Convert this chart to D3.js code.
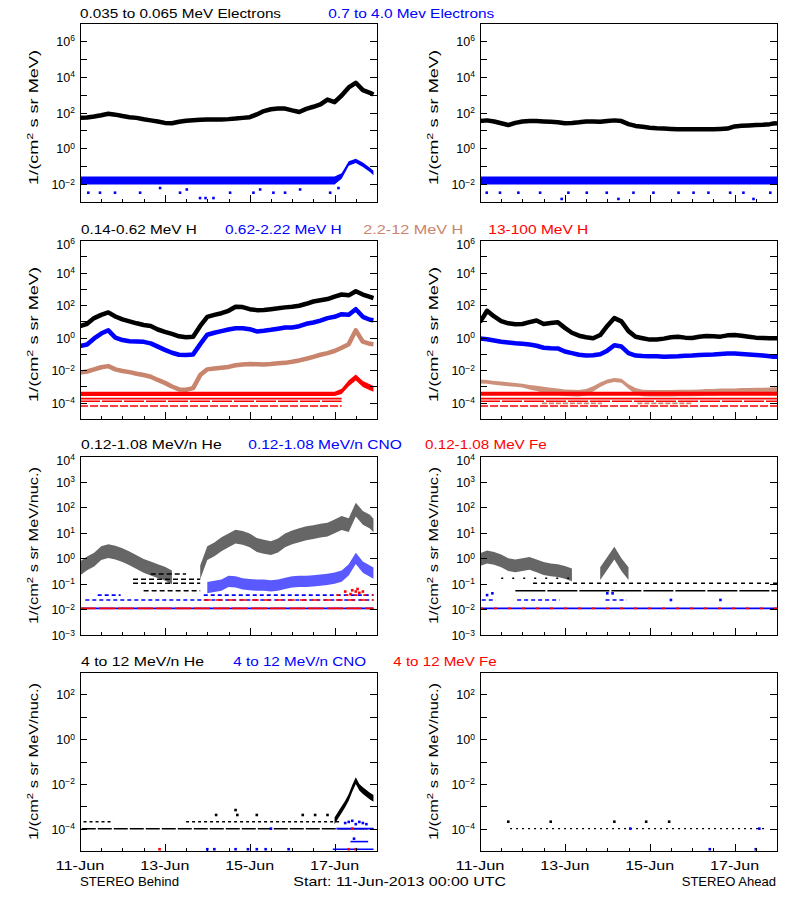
<!DOCTYPE html>
<html><head><meta charset="utf-8">
<script src="https://cdn.jsdelivr.net/npm/d3@7"></script>
<style>body{margin:0;background:#fff}svg{display:block}text{font-family:"Liberation Sans",Arial,sans-serif}</style>
</head><body><svg id="c" width="800" height="900"></svg>
<script>
// ---------- DATA (log10 of flux), sampled every 4 hours from 11-Jun-2013 00:00 UTC ----------
const hours = [0,4,8,12,16,20,24,28,32,36,40,44,48,52,56,60,64,68,72,76,80,84,88,92,96,100,104,108,112,116,120,124,128,132,136,140,144,148,152,156,160,164,166];

// Row 1: electrons
const behindElecLow = [1.70,1.72,1.78,1.85,1.93,1.88,1.80,1.74,1.70,1.62,1.56,1.50,1.42,1.40,1.48,1.54,1.57,1.60,1.61,1.61,1.61,1.63,1.66,1.70,1.74,1.89,2.08,2.18,2.22,2.22,2.12,2.03,2.20,2.32,2.45,2.72,2.58,2.95,3.40,3.66,3.25,3.10,3.00];
const behindElecHigh = [-1.80,-1.80,-1.80,-1.80,-1.80,-1.80,-1.80,-1.80,-1.80,-1.80,-1.80,-1.80,-1.80,-1.80,-1.80,-1.80,-1.80,-1.80,-1.80,-1.80,-1.80,-1.80,-1.80,-1.80,-1.80,-1.80,-1.80,-1.80,-1.80,-1.80,-1.80,-1.80,-1.80,-1.80,-1.80,-1.80,-1.80,-1.55,-0.85,-0.70,-0.92,-1.20,-1.38];
const behindElecHighSpread = [0.22,0.22,0.22,0.22,0.22,0.22,0.22,0.22,0.22,0.22,0.22,0.22,0.22,0.22,0.22,0.22,0.22,0.22,0.22,0.22,0.22,0.22,0.22,0.22,0.22,0.22,0.22,0.22,0.22,0.22,0.22,0.22,0.22,0.22,0.22,0.22,0.22,0.15,0.12,0.12,0.12,0.12,0.12];
const behindElecHighDots = [[4.7,-2.48],[11.3,-2.48],[19.8,-2.48],[34,-2.48],[45.3,-2.22],[56.6,-2.48],[60.4,-2.3],[67.9,-2.78],[71,-2.78],[75.5,-2.78],[84.9,-2.48],[98.1,-2.48],[101.9,-2.3],[109.4,-2.48],[116,-2.48],[124.5,-2.3],[141.5,-2.48],[146.2,-2.22]];
const aheadElecLow = [1.52,1.56,1.50,1.40,1.30,1.42,1.50,1.52,1.52,1.50,1.48,1.46,1.40,1.42,1.45,1.50,1.50,1.48,1.52,1.56,1.52,1.35,1.25,1.20,1.15,1.12,1.10,1.08,1.06,1.06,1.06,1.06,1.06,1.06,1.08,1.10,1.22,1.26,1.28,1.30,1.32,1.35,1.38];
const aheadElecHighLevel = -1.80;
const aheadElecHighDots = [[3.8,-2.48],[11.3,-2.48],[21.7,-2.48],[34,-2.48],[50,-2.48],[60.4,-2.48],[71.7,-2.48],[86.8,-2.48],[98.1,-2.48],[112.3,-2.48],[120.8,-2.48],[129.2,-2.48],[141.5,-2.48],[149,-2.48],[164.2,-2.48],[46.2,-2.83],[78.3,-2.83],[154.7,-2.83]];

// Row 2: protons
const behindH1 = [0.70,0.85,1.20,1.40,1.55,1.30,1.12,1.00,0.88,0.78,0.72,0.50,0.35,0.23,0.08,0.02,0.05,0.72,1.28,1.40,1.50,1.65,1.90,1.88,1.75,1.69,1.70,1.75,1.80,1.86,1.90,1.96,2.08,2.22,2.30,2.37,2.52,2.65,2.60,2.85,2.65,2.50,2.43];
const behindH2 = [-0.52,-0.42,-0.05,0.25,0.45,0.00,-0.15,-0.22,-0.24,-0.26,-0.35,-0.55,-0.75,-0.93,-1.05,-1.06,-1.03,-0.40,0.18,0.30,0.40,0.50,0.58,0.58,0.52,0.38,0.42,0.48,0.55,0.62,0.62,0.70,0.85,0.93,1.05,1.20,1.28,1.44,1.40,1.75,1.28,1.10,1.07];
const behindH3 = [-2.15,-2.08,-1.95,-1.82,-1.75,-1.95,-2.05,-2.12,-2.22,-2.30,-2.40,-2.60,-2.78,-3.00,-3.18,-3.20,-3.10,-2.30,-1.95,-1.90,-1.85,-1.80,-1.70,-1.65,-1.62,-1.63,-1.65,-1.62,-1.58,-1.55,-1.48,-1.40,-1.30,-1.18,-1.05,-0.95,-0.82,-0.62,-0.40,0.45,-0.25,-0.38,-0.40];
const behindH4 = [-3.45,-3.45,-3.45,-3.45,-3.45,-3.45,-3.45,-3.45,-3.45,-3.45,-3.45,-3.45,-3.45,-3.45,-3.45,-3.45,-3.45,-3.45,-3.45,-3.45,-3.45,-3.45,-3.45,-3.45,-3.45,-3.45,-3.45,-3.45,-3.45,-3.45,-3.45,-3.45,-3.45,-3.45,-3.45,-3.45,-3.45,-3.30,-2.80,-2.45,-2.85,-3.05,-3.15];
const behindH4Spread = [0.13,0.13,0.13,0.13,0.13,0.13,0.13,0.13,0.13,0.13,0.13,0.13,0.13,0.13,0.13,0.13,0.13,0.13,0.13,0.13,0.13,0.13,0.13,0.13,0.13,0.13,0.13,0.13,0.13,0.13,0.13,0.13,0.13,0.13,0.13,0.13,0.13,0.16,0.18,0.18,0.18,0.18,0.18];
const redCountLevels = [-3.75,-3.91,-4.20];
const behindRedLevelSpan = [0,148];
const aheadH1 = [0.95,1.65,1.30,1.02,0.88,0.82,0.84,0.95,1.05,0.84,0.90,0.95,0.60,0.30,0.12,0.02,-0.04,0.16,0.72,1.20,1.00,0.40,0.05,-0.04,-0.12,-0.12,-0.06,0.02,0.06,0.00,-0.02,0.05,0.10,0.08,0.06,0.14,0.16,0.12,0.06,0.00,-0.02,-0.04,-0.04];
const aheadH2 = [-0.05,-0.10,-0.18,-0.25,-0.30,-0.35,-0.38,-0.42,-0.50,-0.62,-0.65,-0.66,-0.85,-0.95,-1.05,-1.10,-1.08,-1.02,-0.80,-0.47,-0.55,-0.95,-1.10,-1.13,-1.15,-1.15,-1.17,-1.16,-1.15,-1.12,-1.10,-1.07,-1.05,-1.03,-1.00,-0.98,-0.97,-1.00,-1.03,-1.06,-1.10,-1.15,-1.17];
const aheadH3 = [-2.70,-2.72,-2.78,-2.82,-2.86,-2.90,-2.95,-3.05,-3.12,-3.20,-3.28,-3.32,-3.38,-3.40,-3.42,-3.35,-3.15,-2.90,-2.70,-2.60,-2.65,-3.00,-3.30,-3.40,-3.42,-3.42,-3.42,-3.42,-3.40,-3.40,-3.40,-3.38,-3.36,-3.35,-3.33,-3.32,-3.32,-3.30,-3.30,-3.28,-3.28,-3.26,-3.25];
const aheadH3Spread = [0.12,0.12,0.12,0.12,0.12,0.12,0.12,0.14,0.16,0.18,0.2,0.2,0.2,0.2,0.2,0.2,0.16,0.14,0.12,0.12,0.12,0.14,0.2,0.2,0.2,0.2,0.2,0.2,0.2,0.2,0.2,0.2,0.2,0.2,0.2,0.2,0.2,0.2,0.2,0.2,0.2,0.2,0.2];
const aheadH3CountLevel = -4.04;
const aheadH3CountSpans = [[35,69],[89,120]];
const aheadH4 = -3.45;

// Row 3: 0.12-1.08 MeV/n ions
const behindHe = [-0.40,-0.20,-0.05,0.20,0.28,0.22,0.12,0.00,-0.15,-0.30,-0.40,-0.50,-0.60,-0.75,null,null,null,-0.55,0.20,0.35,0.55,0.70,0.85,0.80,0.70,0.52,0.45,0.40,0.50,0.70,0.82,0.90,0.98,1.02,1.08,1.12,1.25,1.38,1.30,1.90,1.58,1.43,1.28];
const behindHeCountLevels = [-0.61,-0.82,-0.98,-1.27];
const behindHeCountSpans = [[40,60],[30,68],[30,68],[36,68]];
const behindCNO = [null,null,null,null,null,null,null,null,null,null,null,null,null,null,null,null,null,null,-1.15,-1.10,-1.05,-0.90,-0.92,-1.00,-1.03,-1.05,-1.05,-1.08,-1.05,-0.98,-0.92,-0.90,-0.90,-0.88,-0.85,-0.82,-0.78,-0.70,-0.45,0.00,-0.35,-0.50,-0.58];
const ionCountLevels = [-1.44,-1.63,-1.96];
const behindCNOCountSpans = [[[10,23],[70,166]],[[3,166]],[[0,166]]];
const behindFeCountSpans = [[[145,166]],[[70,166]],[[0,166]]];
const behindFeDots = [[150,-1.3],[154,-1.25],[156,-1.3],[158,-1.35],[160,-1.3],[153,-1.4],[157,-1.2]];
const aheadHe = [-0.05,0.05,0.00,-0.10,-0.25,-0.30,-0.25,-0.20,-0.30,-0.40,-0.45,-0.48,-0.55,-0.65,null,null,null,-0.60,-0.20,0.20,-0.25,-0.60,null,null,null,null,null,null,null,null,null,null,null,null,null,null,null,null,null,null,null,null,null];
const aheadHeCountLevels = [-0.78,-0.98,-1.27];
const aheadHeCountSpans = [[[12,55]],[[30,168]],[[20,168]]];
const aheadCNOSegments = [[1,9],[21,45],[71,83]];
const aheadCNODots = [[108,-1.63],[136,-1.63],[4,-1.44],[7,-1.37],[72,-1.37],[75,-1.37]];

// Row 4: 4-12 MeV/n ions
const behindHe4Hours = [144,146,148,150,152,154,156,158,160,162,164,166];
const behindHe4 = [-3.65,-3.40,-3.15,-2.90,-2.60,-2.20,-1.85,-2.15,-2.30,-2.42,-2.55,-2.65];
const he4CountLevels = [-4.0,-3.69];
const behindHe4CountSpans = [[[1,166]],[[2,19],[60,147]]];
const behindHe4Dots = [[77,-3.39],[89,-3.39],[100,-3.39],[126,-3.39],[133,-3.39],[140,-3.39],[88,-3.17]];
const behindCNO4Levels = [-4.0,-4.58,-4.92];
const behindCNO4Spans = [[[145,166]],[[153,163]],[[143,166]]];
const behindCNO4Dots = [[72,-4.92],[76,-4.92],[88,-4.92],[95,-4.92],[100,-4.92],[105,-4.92],[118,-4.92],[108,-4.0],[150,-3.75],[152,-3.7],[154,-3.65],[156,-3.8],[158,-3.7],[160,-3.75],[162,-3.8],[155,-4.45]];
const behindFe4Dots = [[45,-4.92],[152,-4.92],[156,-4.92],[154,-4.0]];
const aheadHe4Span = [17,162];
const aheadHe4Dots = [[16,-3.69],[40,-3.69],[76,-3.69],[94,-3.69],[107,-3.69]];
const aheadCNO4Dots = [[130,-4.92],[156,-4.92],[85,-4.0],[158,-4.0]];

// Axis / label text
const yDomains = [[1e-3,1e7],[1e-5,1e6],[1e-3,1e4],[1e-5,1e3]];
const yLabelExps = [[-2,0,2,4,6],[-4,-2,0,2,4,6],[-3,-2,-1,0,1,2,3,4],[-4,-2,0,2]];
const yTitles = ["MeV)","MeV)","MeV/nuc.)","MeV/nuc.)"];
const rowTitles = [
  [["0.035 to 0.065 MeV Electrons","k"],["0.7 to 4.0 Mev Electrons","b"]],
  [["0.14-0.62 MeV H","k"],["0.62-2.22 MeV H","b"],["2.2-12 MeV H","o"],["13-100 MeV H","r"]],
  [["0.12-1.08 MeV/n He","k"],["0.12-1.08 MeV/n CNO","b"],["0.12-1.08 MeV Fe","r"]],
  [["4 to 12 MeV/n He","k"],["4 to 12 MeV/n CNO","b"],["4 to 12 MeV Fe","r"]]
];
const footLeft = "STEREO Behind", footMid = "Start: 11-Jun-2013 00:00 UTC", footRight = "STEREO Ahead";

// ---------- LAYOUT / STYLE ----------
const COL = {k:"#000000", b:"#0000ff", o:"#c8846c", r:"#ff0000"};
const colX = [[80,377],[480,777]];
const rowTop = [23,240,456,672];
const PH = 179;
const titlePos = [
  [[80,201],[328.3,166]],
  [[81,115.7],[225,116.7],[363.3,100],[488.3,100]],
  [[81,140.7],[248.3,153.4],[425,121.7]],
  [[81,123],[233.3,132.7],[393.3,103.4]]
];
const titleBase = [18.3,234,449,666];
const t0 = Date.UTC(2013,5,11), t1 = Date.UTC(2013,5,18);
const svg = d3.select("#c");
svg.append("rect").attr("width",800).attr("height",900).attr("fill","#fff");

const spansOf = (lv, sp) => lv.map((v,i)=>({v, spans: sp[i]}));

const panels = [
  {row:0,col:0,layers:[
    {type:"line",t:hours,v:behindElecLow,c:"k",w:4.5},
    {type:"band",t:hours,v:behindElecHigh,s:behindElecHighSpread,c:"b"},
    {type:"dots",pts:behindElecHighDots,c:"b"}]},
  {row:0,col:1,layers:[
    {type:"line",t:hours.concat([168]),v:aheadElecLow.concat([1.40]),c:"k",w:4.5},
    {type:"band",t:[0,168],v:[aheadElecHighLevel,aheadElecHighLevel],s:0.22,c:"b"},
    {type:"dots",pts:aheadElecHighDots,c:"b"}]},
  {row:1,col:0,layers:[
    {type:"line",t:hours,v:behindH1,c:"k",w:4.5},
    {type:"line",t:hours,v:behindH2,c:"b",w:4.5},
    {type:"line",t:hours,v:behindH3,c:"o",w:4.5},
    {type:"band",t:hours,v:behindH4,s:behindH4Spread,c:"r"},
    ...redCountLevels.map((v,i)=>({type:"level",v,spans:[behindRedLevelSpan],c:"r",w:1.6,dash:i===2?"8,2":(i===1?"20,2":null)}))]},
  {row:1,col:1,layers:[
    {type:"line",t:hours.concat([168]),v:aheadH1.concat([-0.04]),c:"k",w:4.5},
    {type:"line",t:hours.concat([168]),v:aheadH2.concat([-1.17]),c:"b",w:4.5},
    {type:"band",t:hours.concat([168]),v:aheadH3.concat([-3.25]),s:aheadH3Spread.concat([0.2]),c:"o",op:0.9},
    {type:"band",t:[0,168],v:[aheadH4,aheadH4],s:0.12,c:"r"},
    ...redCountLevels.map((v,i)=>({type:"level",v,spans:[[0,168]],c:"r",w:1.6,dash:i===2?"8,2":(i===1?"20,2":null)})),
    {type:"level",v:aheadH3CountLevel,spans:aheadH3CountSpans,c:"o",w:1.7,dash:"5,2"}]},
  {row:2,col:0,layers:[
    {type:"band",t:hours,v:behindHe,s:0.27,c:"k",op:0.6},
    ...spansOf(behindHeCountLevels,behindHeCountSpans).map(d=>({type:"level",v:d.v,spans:[d.spans],c:"k",w:1.5,dash:"5,3"})),
    {type:"band",t:hours,v:behindCNO,s:0.22,c:"b",op:0.65},
    ...ionCountLevels.map((v,i)=>({type:"level",v,spans:behindCNOCountSpans[i],c:"b",w:1.6,dash:i===2?null:"4,3"})),
    ...ionCountLevels.map((v,i)=>({type:"level",v,spans:behindFeCountSpans[i],c:"r",w:1.6,dash:i===2?"16,3":(i===1?"7,5":"3,6")})),
    {type:"dots",pts:behindFeDots,c:"r"}]},
  {row:2,col:1,layers:[
    {type:"band",t:hours,v:aheadHe,s:0.25,c:"k",op:0.6},
    ...aheadHeCountLevels.map((v,i)=>({type:"level",v,spans:aheadHeCountSpans[i],c:"k",w:1.5,dash:i===0?"2,9":(i===1?"4,4":"30,2")})),
    {type:"level",v:-1.63,spans:aheadCNOSegments,c:"b",w:1.6,dash:"4,3"},
    {type:"dots",pts:aheadCNODots,c:"b"},
    {type:"level",v:-1.96,spans:[[0,168]],c:"b",w:1.6,dash:null},
    {type:"level",v:-1.96,spans:[[0,168]],c:"r",w:1.6,dash:"3,11"}]},
  {row:3,col:0,layers:[
    ...spansOf(he4CountLevels,behindHe4CountSpans).map((d,i)=>({type:"level",v:d.v,spans:d.spans,c:"k",w:1.5,dash:i===0?"14,2":"3,3"})),
    {type:"dots",pts:behindHe4Dots,c:"k"},
    {type:"band",t:behindHe4Hours,v:behindHe4,s:0.15,c:"k"},
    ...spansOf(behindCNO4Levels,behindCNO4Spans).map(d=>({type:"level",v:d.v,spans:d.spans,c:"b",w:1.6,dash:null})),
    {type:"dots",pts:behindCNO4Dots,c:"b"},
    {type:"dots",pts:behindFe4Dots,c:"r"}]},
  {row:3,col:1,layers:[
    {type:"level",v:-4.0,spans:[aheadHe4Span],c:"k",w:1.4,dash:"2,4"},
    {type:"dots",pts:aheadHe4Dots,c:"k"},
    {type:"dots",pts:aheadCNO4Dots,c:"b"}]}
];

function drawPanel(p){
  const [x0,x1] = colX[p.col];
  const yT = rowTop[p.row], yB = yT + PH;
  const x = d3.scaleUtc().domain([new Date(t0), new Date(t1)]).range([x0,x1]);
  const y = d3.scaleLog().domain(yDomains[p.row]).range([yB,yT]);
  const X = h => x(new Date(t0 + h*3600e3));
  const Y = v => y(Math.pow(10,v));
  const id = "clip"+p.row+p.col;
  svg.append("clipPath").attr("id",id).append("rect").attr("x",x0).attr("y",yT).attr("width",x1-x0).attr("height",PH);
  const g = svg.append("g").attr("clip-path",`url(#${id})`);
  p.layers.forEach(L=>{
    const c = COL[L.c];
    if(L.type==="line"){
      const line = d3.line().defined(d=>d[1]!=null).x(d=>X(d[0])).y(d=>Y(d[1]));
      g.append("path").datum(L.t.map((h,i)=>[h,L.v[i]])).attr("d",line).attr("fill","none")
        .attr("stroke",c).attr("stroke-width",L.w).attr("stroke-linejoin","round").attr("stroke-linecap","butt");
    } else if(L.type==="band"){
      const sp = i => Array.isArray(L.s)?L.s[i]:L.s;
      const area = d3.area().defined(d=>d.v!=null).x(d=>X(d.h)).y0(d=>Y(d.v-d.s)).y1(d=>Y(d.v+d.s));
      g.append("path").datum(L.t.map((h,i)=>({h,v:L.v[i],s:sp(i)}))).attr("d",area)
        .attr("fill",c).attr("opacity",L.op||1);
    } else if(L.type==="level"){
      L.spans.forEach(([a,b])=>{
        g.append("line").attr("x1",X(a)).attr("x2",X(b)).attr("y1",Y(L.v)).attr("y2",Y(L.v))
          .attr("stroke",c).attr("stroke-width",L.w).attr("stroke-dasharray",L.dash);
      });
    } else if(L.type==="dots"){
      g.selectAll(null).data(L.pts).enter().append("rect")
        .attr("x",d=>X(d[0])-1.3).attr("y",d=>Y(d[1])-1.3).attr("width",2.6).attr("height",2.6).attr("fill",c);
    }
  });
  // frame
  svg.append("rect").attr("x",x0).attr("y",yT).attr("width",x1-x0).attr("height",PH)
    .attr("fill","none").attr("stroke","#000").attr("stroke-width",1).attr("shape-rendering","crispEdges");
  // axes (ticks inward)
  const eLo = Math.round(Math.log10(yDomains[p.row][0])), eHi = Math.round(Math.log10(yDomains[p.row][1]));
  const exps = d3.range(eLo, eHi+1).map(e=>Math.pow(10,e));
  const ax = [
    [d3.axisLeft(y).tickValues(exps).tickSize(-7), `translate(${x0},0)`],
    [d3.axisRight(y).tickValues(exps).tickSize(-7), `translate(${x1},0)`],
    [d3.axisBottom(x).ticks(d3.utcHour.every(12)).tickSize(-3.5), `translate(0,${yB})`],
    [d3.axisBottom(x).ticks(d3.utcDay.every(2)).tickSize(-7), `translate(0,${yB})`]
  ];
  ax.forEach(([a,tr])=>{
    const ag = svg.append("g").attr("transform",tr).call(a.tickFormat("").tickSizeOuter(0));
    ag.select(".domain").remove();
    ag.selectAll("line").attr("stroke","#000").attr("shape-rendering","crispEdges");
  });
  // y labels (label at the very top edge sits a little lower, as in the reference)
  yLabelExps[p.row].forEach(e=>{
    const t = svg.append("text").attr("x",x0-5).attr("y",y(Math.pow(10,e))+5+(e===eHi?3.5:0))
      .attr("text-anchor","end").attr("font-size",12.5).attr("fill","#000");
    t.append("tspan").text("10");
    t.append("tspan").attr("dy",-4.5).attr("font-size",8.5).text(e<0?"\u2212"+(-e):String(e));
  });
  // y title
  const cy = (yT+yB)/2 + (p.row<2?5:0);
  const tl = p.row<2?135:157;
  const tt = svg.append("text").attr("transform",`translate(${x0-42},${cy}) rotate(-90)`)
    .attr("text-anchor","middle").attr("font-size",13).attr("fill","#000")
    .attr("textLength",tl).attr("lengthAdjust","spacingAndGlyphs");
  tt.append("tspan").text("1/(cm");
  tt.append("tspan").attr("dy",-5).attr("font-size",9).text("2");
  tt.append("tspan").attr("dy",5).text(" s sr "+yTitles[p.row]);
  // x labels for bottom row
  if(p.row===3){
    x.ticks(d3.utcDay.every(2)).forEach(d=>{
      svg.append("text").attr("x",x(d)).attr("y",870).attr("text-anchor","middle").attr("font-size",13)
        .attr("textLength",49).attr("lengthAdjust","spacingAndGlyphs").text(d3.utcFormat("%d-%b")(d));
    });
  }
}
panels.forEach(drawPanel);

// titles
rowTitles.forEach((row,r)=>{
  row.forEach(([txt,c],i)=>{
    const [tx,tw] = titlePos[r][i];
    svg.append("text").attr("x",tx).attr("y",titleBase[r]).attr("font-size",13).attr("fill",COL[c])
      .attr("textLength",tw).attr("lengthAdjust","spacingAndGlyphs").text(txt);
  });
});
// footer
svg.append("text").attr("x",80).attr("y",886).attr("font-size",13).attr("textLength",99).attr("lengthAdjust","spacingAndGlyphs").text(footLeft);
svg.append("text").attr("x",293.3).attr("y",886).attr("font-size",13).attr("textLength",212.7).attr("lengthAdjust","spacingAndGlyphs").text(footMid);
svg.append("text").attr("x",681.7).attr("y",886).attr("font-size",13).attr("textLength",94.3).attr("lengthAdjust","spacingAndGlyphs").text(footRight);
</script></body></html>
